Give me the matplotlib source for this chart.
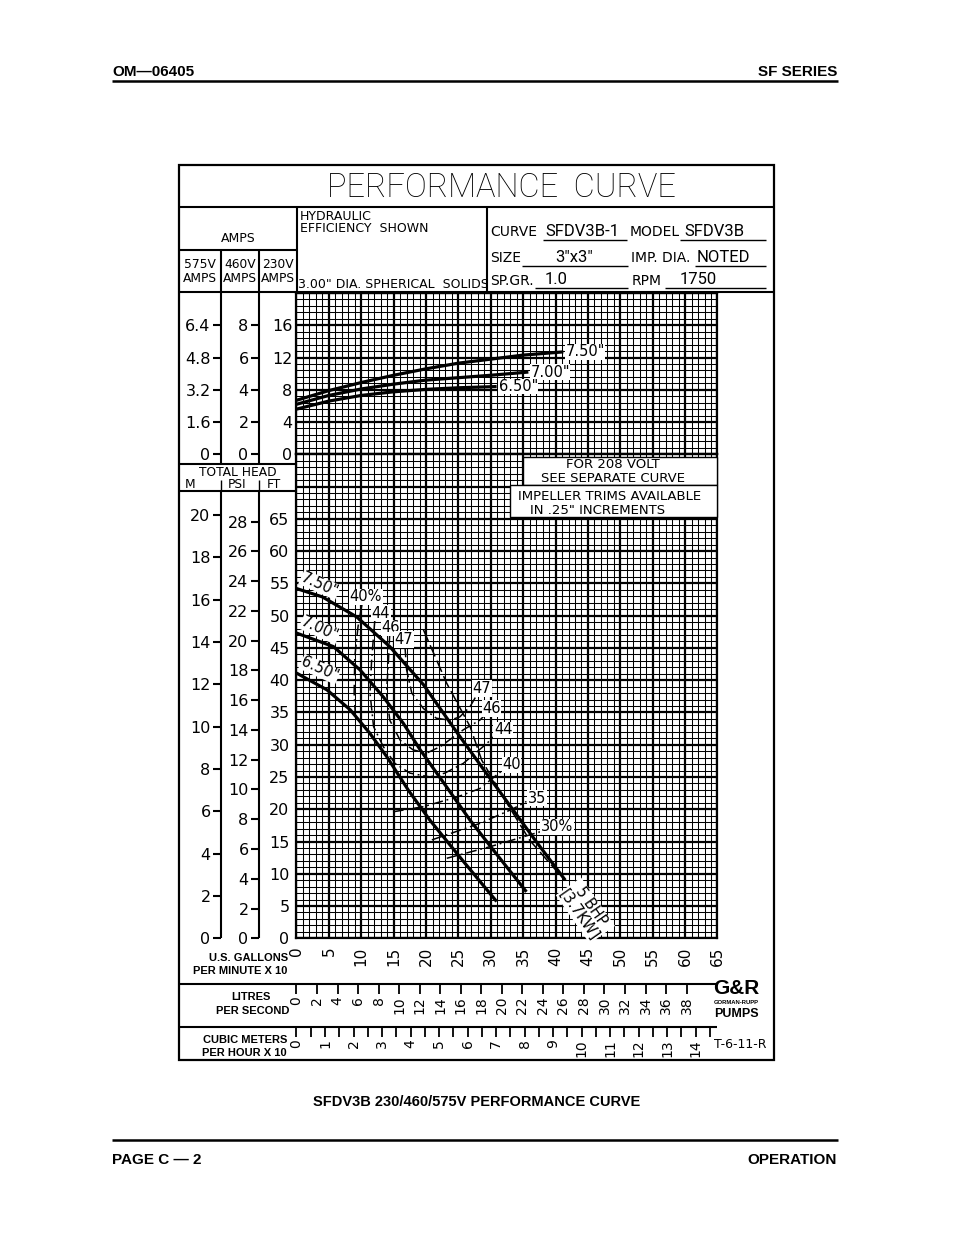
import numpy as np
import matplotlib
matplotlib.use("Agg")
import matplotlib.pyplot as plt
from matplotlib import font_manager as fm
from matplotlib.patches import Rectangle

# ------------------------------------------------------------------ data
# flow = US GPM x 10, head in feet, current in 230 V amps
Q_750 = [0, 4.0, 9.3, 14.4, 19.6, 24.7, 29.0, 33.0, 37.0, 41.5]
FT_750 = [54.2, 52.9, 49.8, 45.2, 39.3, 32.0, 26.0, 20.5, 15.0, 9.0]
Q_700 = [0, 5.7, 9.8, 13.4, 16.5, 19.1, 23.0, 26.8, 31.0, 35.5]
FT_700 = [47.3, 45.2, 41.6, 37.4, 33.3, 29.2, 23.7, 18.3, 12.9, 7.2]
Q_650 = [0, 4.7, 8.3, 11.3, 13.9, 17.3, 20.6, 25.7, 30.9]
FT_650 = [41.1, 38.5, 35.4, 31.8, 28.2, 22.9, 18.3, 12.0, 5.7]

AQ_750 = [0, 5, 10, 15, 20, 25, 30, 35, 41.2]
AMP_750 = [6.7, 7.9, 8.9, 9.8, 10.6, 11.3, 11.8, 12.3, 12.7]
AQ_700 = [0, 5, 10, 15, 20, 25, 30, 35.8]
AMP_700 = [6.2, 7.3, 8.1, 8.7, 9.2, 9.5, 9.8, 10.2]
AQ_650 = [0, 5, 10, 15, 20, 25, 30.9]
AMP_650 = [5.6, 6.6, 7.3, 7.75, 8.05, 8.25, 8.4]
TRIMS = ['7.50"', '7.00"', '6.50"']

# iso-efficiency lines
E47_Q = [16.75, 17.0, 17.8, 19.6, 21.6, 23.7, 25.2, 26.8, 28.0]
E47_FT = [45.2, 41.6, 38.0, 35.6, 34.1, 33.8, 34.3, 35.9, 38.0]
E46_Q = [14.4, 14.2, 13.9, 14.4, 16.0, 18.0, 20.1, 22.2, 25.75, 28.3, 29.6]
E46_FT = [47.3, 43.1, 38.0, 33.8, 30.7, 29.2, 28.7, 29.7, 32.3, 33.8, 35.1]
E44_Q = [12.1, 11.6, 11.35, 11.9, 13.4, 15.2, 17.5, 20.6, 22.9, 25.75, 29.4, 31.0]
E44_FT = [49.4, 43.1, 38.0, 32.8, 29.7, 27.1, 25.6, 25.0, 25.6, 27.1, 30.2, 31.8]
E40L_Q = [10.1, 9.5, 9.0, 8.9, 9.1]
E40L_FT = [51.7, 48.3, 43.6, 38.0, 34.3]
E40R_Q = [14.9, 19.6, 24.8, 28.3, 29.9, 31.9]
E40R_FT = [19.6, 20.4, 21.9, 23.2, 24.5, 26.1]
E35_Q = [20.9, 28.3, 33.5, 35.5]
E35_FT = [15.25, 17.8, 20.1, 21.2]
E30_Q = [23.2, 29.9, 37.6]
E30_FT = [12.4, 14.2, 16.5]

EFF_TEXT = ["40%", "44", "46", "47", "47", "46", "44", "40", "35", "30%"]
EFF_TEXT_Q = [10.7, 13.0, 14.5, 16.6, 28.6, 30.1, 31.9, 33.2, 37.1, 40.2]
EFF_TEXT_FT = [52.9, 50.4, 48.1, 46.3, 38.7, 35.6, 32.3, 26.9, 21.7, 17.3]

# 5 BHP limit line
BHP_Q = [19.6, 23.2, 26.8, 28.6, 32.2, 36.0, 40.7]
BHP_FT = [47.8, 39.5, 32.8, 27.6, 21.4, 15.2, 9.8]

# scales
FT_TICKS = list(range(0, 66, 5))
AMP230_TICKS = [0, 4, 8, 12, 16]
AMP460_TICKS = [0, 2, 4, 6, 8]
AMP575_TICKS = [0, 1.6, 3.2, 4.8, 6.4]
M_TICKS = list(range(0, 21, 2))
PSI_TICKS = list(range(0, 29, 2))
GPM_TICKS = list(range(0, 66, 5))
LPS_TICKS = list(range(0, 39, 2))
M3H_TICKS = list(range(0, 15))

FT_PER_M = 3.28084
FT_PER_PSI = 2.30666
GPM_PER_LPS = 15.8503
M3H_PER_GPM = 0.2271247

# ------------------------------------------------------------------ layout
W_PX, H_PX, DPI = 954, 1235, 100
plt.rcParams["font.family"] = "DejaVu Sans"


def pick(fams):
    for f in fams:
        try:
            fm.findfont(f, fallback_to_default=False)
            return f
        except ValueError:
            pass
    return "DejaVu Sans"


HELV = pick(["Liberation Sans", "DejaVu Sans"])
NARROW = pick(["Liberation Sans Narrow", "Liberation Sans", "DejaVu Sans"])
THIN = pick(["Roboto", "DejaVu Sans"])

fig = plt.figure(figsize=(W_PX / DPI, H_PX / DPI), dpi=DPI)


def px_axes(x0, y0, x1, y1, **kw):
    return fig.add_axes([x0 / W_PX, 1 - y1 / H_PX, (x1 - x0) / W_PX, (y1 - y0) / H_PX], **kw)


page = px_axes(0, 0, W_PX, H_PX)
page.set_xlim(0, W_PX)
page.set_ylim(H_PX, 0)
page.axis("off")


def hline(y, x0, x1, lw=1.5):
    page.plot([x0, x1], [y, y], color="k", lw=lw, solid_capstyle="butt")


def vline(x, y0, y1, lw=1.5):
    page.plot([x, x], [y0, y1], color="k", lw=lw, solid_capstyle="butt")


# page header / footer
page.text(112, 72, "OM\u201406405", fontsize=11, fontweight="bold", family=HELV, va="center")
page.text(837, 72, "SF SERIES", fontsize=11, fontweight="bold", family=HELV, va="center", ha="right")
hline(81, 112, 838, 1.8)
page.text(477, 1102, "SFDV3B 230/460/575V PERFORMANCE CURVE", fontsize=10.5, fontweight="bold",
          family=HELV, ha="center", va="center")
hline(1140, 112, 838, 1.8)
page.text(112, 1160, "PAGE C \u2014 2", fontsize=11, fontweight="bold", family=HELV, va="center")
page.text(837, 1160, "OPERATION", fontsize=11, fontweight="bold", family=HELV, va="center", ha="right")

# chart frame
GX0, GX1 = 296.5, 717.5
GY_TOP, GY_MID, GY_BOT = 293.0, 454.3, 938.3
page.add_patch(Rectangle((179, 165), 595, 895, fill=False, lw=1.6, ec="k"))
hline(207, 179, 774)
hline(292, 179, 774)
vline(297, 207, 292)
vline(487, 207, 292)
hline(250, 179, 297)
for x in (221, 259):
    vline(x, 250, 464)
    vline(x, 491, GY_BOT)
    vline(x, 480, 491, 1.0)
hline(464, 179, 297)
hline(491, 179, 297)
hline(984, 179, GX1)
hline(1027, 179, GX1)

page.text(501, 188, "PERFORMANCE  CURVE", fontsize=23.5, family=THIN, fontweight="light",
          ha="center", va="center")
page.text(238, 238, "AMPS", fontsize=9, ha="center", va="center")
for xc, v in zip((200, 240, 278), ("575V", "460V", "230V")):
    page.text(xc, 265, v, fontsize=8.8, ha="center", va="center")
    page.text(xc, 278, "AMPS", fontsize=8.8, ha="center", va="center")
page.text(300, 216, "HYDRAULIC", fontsize=9, va="center")
page.text(300, 229, "EFFICIENCY  SHOWN", fontsize=9, va="center")
page.text(298, 285, '3.00" DIA. SPHERICAL  SOLIDS', fontsize=9, va="center")

hdr = [("CURVE", 490, 232), ("MODEL", 630, 232), ("SIZE", 490, 258), ("IMP. DIA.", 631, 258),
       ("SP.GR.", 490, 281), ("RPM", 632, 281)]
for t, x, y in hdr:
    page.text(x, y, t, fontsize=10, va="center")
vals = [("SFDV3B-1", 545, 231), ("SFDV3B", 684, 231), ('3"x3"', 555, 257), ("NOTED", 697, 257),
        ("1.0", 545, 280), ("1750", 680, 280)]
for t, x, y in vals:
    page.text(x, y, t, fontsize=12, family=THIN, va="center")
for y, x0, x1 in [(240, 543, 627), (240, 680, 766), (266, 522, 628), (266, 695, 766),
                  (288, 535, 628), (288, 665, 766)]:
    hline(y, x0, x1, 1.0)

page.text(238, 472, "TOTAL HEAD", fontsize=8.8, ha="center", va="center")
page.text(190, 485, "M", fontsize=8.8, ha="center", va="center")
page.text(237, 485, "PSI", fontsize=8.8, ha="center", va="center")
page.text(274, 485, "FT", fontsize=8.8, ha="center", va="center")

lab = dict(fontsize=8, fontweight="bold", family=NARROW, va="center")
page.text(288, 958, "U.S. GALLONS", ha="right", **lab)
page.text(287, 971, "PER MINUTE X 10", ha="right", **lab)
page.text(251, 997, "LITRES", ha="center", **lab)
page.text(253, 1011, "PER SECOND", ha="center", **lab)
page.text(287, 1040, "CUBIC METERS", ha="right", **lab)
page.text(287, 1053, "PER HOUR X 10", ha="right", **lab)
page.text(740, 1045, "T-6-11-R", fontsize=9, ha="center", va="center")
page.text(736, 989, "G&R", fontsize=15, fontweight="heavy", family=HELV, ha="center", va="center")
page.text(736, 1003, "GORMAN-RUPP", fontsize=4.2, fontweight="bold", family=HELV, ha="center", va="center")
page.text(736, 1014, "PUMPS", fontsize=9, fontweight="heavy", family=HELV, ha="center", va="center")

# ------------------------------------------------------------------ grid axes
ax_a = px_axes(GX0, GY_TOP, GX1, GY_MID)
ax_h = px_axes(GX0, GY_MID, GX1, GY_BOT)
for ax in (ax_a, ax_h):
    ax.set_xlim(0, 65)
    ax.set_xticks(GPM_TICKS)
    ax.set_xticks(np.arange(0, 66, 1), minor=True)
    ax.grid(which="major", color="k", lw=1.6)
    ax.grid(which="minor", color="k", lw=0.75)
    ax.tick_params(which="both", length=0)
    ax.set_axisbelow(True)
    for s in ax.spines.values():
        s.set_linewidth(1.6)

ax_a.set_ylim(0, 20)
ax_a.set_yticks([0, 4, 8, 12, 16, 20])
ax_a.set_yticklabels([str(v) for v in AMP230_TICKS] + [""])
ax_a.set_yticks(np.arange(0, 20.01, 0.8), minor=True)
ax_a.tick_params(axis="y", pad=3, labelsize=11.5)
ax_a.set_xticklabels([])

ax_h.set_ylim(0, 75)
ax_h.set_yticks(list(range(0, 76, 5)))
ax_h.set_yticklabels([str(v) for v in FT_TICKS] + ["", ""])
ax_h.set_yticks(np.arange(0, 76, 1), minor=True)
ax_h.tick_params(axis="y", pad=5, labelsize=11.5)
ax_h.set_xticklabels([str(v) for v in GPM_TICKS], rotation=90)
ax_h.tick_params(axis="x", pad=6, labelsize=11)

# amps curves
for q, a, t in zip((AQ_750, AQ_700, AQ_650), (AMP_750, AMP_700, AMP_650), TRIMS):
    ax_a.plot(q, a, color="k", lw=2.3, solid_capstyle="butt", zorder=3)
    ax_a.text(q[-1] + 0.3, a[-1], t, fontsize=10.5, ha="left", va="center", zorder=4,
              bbox=dict(fc="white", ec="none", pad=0.3))

# head curves
for q, h, t in zip((Q_750, Q_700, Q_650), (FT_750, FT_700, FT_650), TRIMS):
    ax_h.plot(q, h, color="k", lw=2.3, solid_capstyle="butt", zorder=3)
    ax_h.text(q[0] + 3.6, h[0] + 0.6, t, fontsize=10.5, rotation=-24, ha="center", va="center",
              rotation_mode="anchor", zorder=4, bbox=dict(fc="white", ec="none", pad=0.3))

DASHDOT = (0, (7, 2.5, 1.2, 2.5))
for q, h in [(E47_Q, E47_FT), (E46_Q, E46_FT), (E44_Q, E44_FT), (E40L_Q, E40L_FT),
             (E40R_Q, E40R_FT), (E35_Q, E35_FT), (E30_Q, E30_FT)]:
    ax_h.plot(q, h, color="k", lw=1.1, linestyle=DASHDOT, zorder=3)
for t, q, h in zip(EFF_TEXT, EFF_TEXT_Q, EFF_TEXT_FT):
    ax_h.text(q, h, t, fontsize=10.5, ha="center", va="center", zorder=4,
              bbox=dict(fc="white", ec="none", pad=0.4))

ax_h.plot(BHP_Q, BHP_FT, color="k", lw=1.1, linestyle=(0, (8, 3)), zorder=3)
ax_h.text(44.6, 4.3, "5 BHP\n[3.7KW]", fontsize=10.5, rotation=-55, ha="center", va="center",
          rotation_mode="anchor", multialignment="center", linespacing=1.0, zorder=4,
          bbox=dict(fc="white", ec="none", pad=0.3))

# ------------------------------------------------------------------ side scales


def side_scale(x, y0, y1, lim, ticks, labels):
    ax = px_axes(x, y0, x + 1, y1)
    ax.set_ylim(0, lim)
    ax.set_xticks([])
    ax.set_yticks(ticks)
    ax.set_yticklabels(labels)
    ax.tick_params(axis="y", direction="out", length=6, width=1.5, pad=1.5, labelsize=11.5)
    ax.patch.set_visible(False)
    for s in ax.spines.values():
        s.set_visible(False)
    return ax


side_scale(221, GY_TOP, GY_MID, 20 * 0.4, AMP575_TICKS, ["0"] + [f"{v:.1f}" for v in AMP575_TICKS[1:]])
side_scale(259, GY_TOP, GY_MID, 20 * 0.5, AMP460_TICKS, [str(v) for v in AMP460_TICKS])
side_scale(221, GY_MID, GY_BOT, 75 / FT_PER_M, M_TICKS, [str(v) for v in M_TICKS])
side_scale(259, GY_MID, GY_BOT, 75 / FT_PER_PSI, PSI_TICKS, [str(v) for v in PSI_TICKS])


def flow_scale(y, lim, ticks, minor):
    ax = px_axes(GX0, y - 1, GX1, y)
    ax.set_xlim(0, lim)
    ax.set_yticks([])
    ax.set_xticks(ticks)
    ax.set_xticklabels([str(v) for v in ticks], rotation=90)
    if minor is not None:
        ax.set_xticks(minor, minor=True)
    ax.tick_params(axis="x", which="both", direction="out", length=7, width=1.3, pad=2, labelsize=10)
    ax.patch.set_visible(False)
    for s in ax.spines.values():
        s.set_visible(False)
    return ax


flow_scale(984, 650 / GPM_PER_LPS, LPS_TICKS, None)
flow_scale(1027, 650 * M3H_PER_GPM / 10, M3H_TICKS, np.arange(0.5, 14.6, 1.0))

# ------------------------------------------------------------------ overlay boxes on the grid
top = px_axes(0, 0, W_PX, H_PX)
top.set_xlim(0, W_PX)
top.set_ylim(H_PX, 0)
top.axis("off")
top.add_patch(Rectangle((523, 457), GX1 - 523, 28, fc="white", ec="k", lw=1.0))
top.add_patch(Rectangle((510, 485), GX1 - 510, 32, fc="white", ec="k", lw=1.0))
top.text(613, 465, "FOR 208 VOLT", fontsize=9.5, ha="center", va="center")
top.text(613, 479, "SEE SEPARATE CURVE", fontsize=9.5, ha="center", va="center")
top.text(610, 496, "IMPELLER TRIMS AVAILABLE", fontsize=9.5, ha="center", va="center")
top.text(598, 510, 'IN .25" INCREMENTS', fontsize=9.5, ha="center", va="center")

fig.savefig("out.png", dpi=DPI)
